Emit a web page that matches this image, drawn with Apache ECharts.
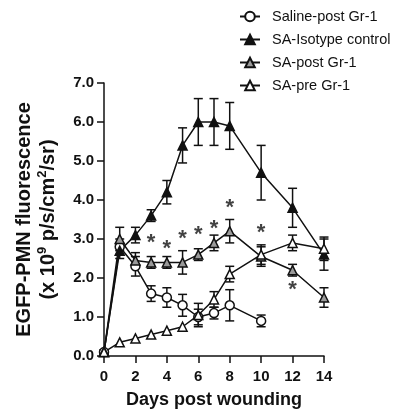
<!DOCTYPE html>
<html>
<head>
<meta charset="utf-8">
<script src="https://cdn.jsdelivr.net/npm/echarts@6/dist/echarts.min.js"></script>
<style>
html, body { margin: 0; padding: 0; background: #fff; }
#chart { width: 399px; height: 414px; }
</style>
</head>
<body>
<div id="chart"></div>
<script>
// days post wounding
var days = [0, 1, 2, 3, 4, 5, 6, 7, 8, 10, 12, 14];
var salineDays = [0, 1, 2, 3, 4, 5, 6, 7, 8, 10];

// means and SEM
var saline = [0.1, 2.8, 2.3, 1.6, 1.5, 1.3, 1.0, 1.1, 1.3, 0.9];
var salineErr = [0.05, 0.2, 0.25, 0.2, 0.25, 0.28, 0.2, 0.15, 0.4, 0.15];
var isotype = [0.1, 2.7, 3.1, 3.6, 4.2, 5.4, 6.0, 6.0, 5.9, 4.7, 3.8, 2.6];
var isotypeErr = [0.05, 0.2, 0.2, 0.15, 0.3, 0.45, 0.6, 0.6, 0.6, 0.7, 0.5, 0.4];
var postGr = [0.1, 3.0, 2.45, 2.4, 2.4, 2.4, 2.6, 2.9, 3.2, 2.55, 2.2, 1.5];
var postGrErr = [0.05, 0.3, 0.2, 0.15, 0.15, 0.3, 0.15, 0.2, 0.3, 0.25, 0.15, 0.25];
var preGr = [0.1, 0.35, 0.45, 0.55, 0.65, 0.75, 1.05, 1.45, 2.1, 2.6, 2.9, 2.75];
var preGrErr = [0, 0, 0, 0, 0, 0, 0.3, 0.2, 0.2, 0.25, 0.2, 0.3];

// significance marks (day, height)
var starDays = [3, 4, 5, 6, 7, 8, 10, 12];
var starY = [2.9, 2.75, 3.0, 3.1, 3.25, 3.8, 3.15, 1.7];

var names = ['Saline-post Gr-1', 'SA-Isotype control', 'SA-post Gr-1', 'SA-pre Gr-1'];

function pairs(xs, ys) {
	var out = [];
	for (var i = 0; i < ys.length; i++) out.push([xs[i], ys[i]]);
	return out;
}
function triples(xs, ys, es) {
	var out = [];
	for (var i = 0; i < ys.length; i++) out.push([xs[i], ys[i], es[i]]);
	return out;
}

function errRender(params, api) {
	var x = api.value(0), y = api.value(1), e = api.value(2);
	if (!e) return;
	var hi = api.coord([x, y + e]);
	var lo = api.coord([x, y - e]);
	var w = 4.5;
	var st = { stroke: '#111', lineWidth: 1.5 };
	return {
		type: 'group',
		children: [
			{ type: 'line', shape: { x1: hi[0], y1: hi[1], x2: lo[0], y2: lo[1] }, style: st },
			{ type: 'line', shape: { x1: hi[0] - w, y1: hi[1], x2: hi[0] + w, y2: hi[1] }, style: st },
			{ type: 'line', shape: { x1: lo[0] - w, y1: lo[1], x2: lo[0] + w, y2: lo[1] }, style: st }
		]
	};
}

function lineSeries(name, data, symbol, fill) {
	return {
		name: name,
		type: 'line',
		data: data,
		symbol: symbol,
		symbolSize: 9,
		z: 3,
		lineStyle: { color: '#111', width: 1.5 },
		itemStyle: { color: fill, borderColor: '#111', borderWidth: 1.5 }
	};
}

function errSeries(data) {
	return {
		type: 'custom',
		renderItem: errRender,
		data: data,
		z: 2,
		silent: true
	};
}

var myChart = echarts.init(document.getElementById('chart'));

var option = {
	animation: false,
	backgroundColor: '#fff',
	textStyle: { fontFamily: 'Liberation Sans, Arial, sans-serif' },
	legend: {
		orient: 'vertical',
		left: 234,
		top: 4,
		itemWidth: 20,
		itemHeight: 12,
		itemGap: 8,
		data: names,
		textStyle: { fontSize: 14.5, color: '#111', padding: [0, 0, 0, 7] }
	},
	grid: { left: 104, right: 75, top: 83, bottom: 58 },
	xAxis: {
		type: 'value',
		min: 0,
		max: 14,
		interval: 2,
		name: 'Days post wounding',
		nameLocation: 'middle',
		nameGap: 35,
		nameTextStyle: { fontSize: 18, fontWeight: 'bold', color: '#111' },
		axisLine: { lineStyle: { color: '#111', width: 1.5 } },
		axisTick: { length: 7, lineStyle: { color: '#111', width: 1.5 } },
		axisLabel: { fontSize: 15, fontWeight: 'bold', color: '#111', margin: 13 },
		splitLine: { show: false }
	},
	yAxis: {
		type: 'value',
		min: 0,
		max: 7,
		interval: 1,
		name: '{a|EGFP-PMN fluorescence}\n{a|(x 10}{s|9}{a| p/s/cm}{s|2}{a|/sr)}',
		nameLocation: 'middle',
		nameGap: 44,
		nameRotate: 90,
		nameTextStyle: {
			rich: {
				a: { fontSize: 20, fontWeight: 'bold', color: '#111', lineHeight: 24 },
				s: { fontSize: 13, fontWeight: 'bold', color: '#111', verticalAlign: 'top', lineHeight: 24 }
			}
		},
		axisLine: { show: true, lineStyle: { color: '#111', width: 1.5 } },
		axisTick: { show: true, length: 7, lineStyle: { color: '#111', width: 1.5 } },
		axisLabel: {
			fontSize: 15, fontWeight: 'bold', color: '#111', margin: 10,
			formatter: function (v) { return v.toFixed(1); }
		},
		splitLine: { show: false }
	},
	series: [
		errSeries(triples(salineDays, saline, salineErr)),
		errSeries(triples(days, isotype, isotypeErr)),
		errSeries(triples(days, postGr, postGrErr)),
		errSeries(triples(days, preGr, preGrErr)),
		lineSeries(names[0], pairs(salineDays, saline), 'circle', '#fff'),
		lineSeries(names[1], pairs(days, isotype), 'triangle', '#111'),
		lineSeries(names[2], pairs(days, postGr), 'triangle', '#9a9a9a'),
		lineSeries(names[3], pairs(days, preGr), 'triangle', '#fff'),
		{
			type: 'scatter',
			data: pairs(starDays, starY),
			symbolSize: 0,
			silent: true,
			label: {
				show: true,
				position: 'inside',
				formatter: '*',
				fontSize: 22,
				fontWeight: 'bold',
				color: '#111'
			}
		}
	]
};
myChart.setOption(option);
</script>
</body>
</html>
